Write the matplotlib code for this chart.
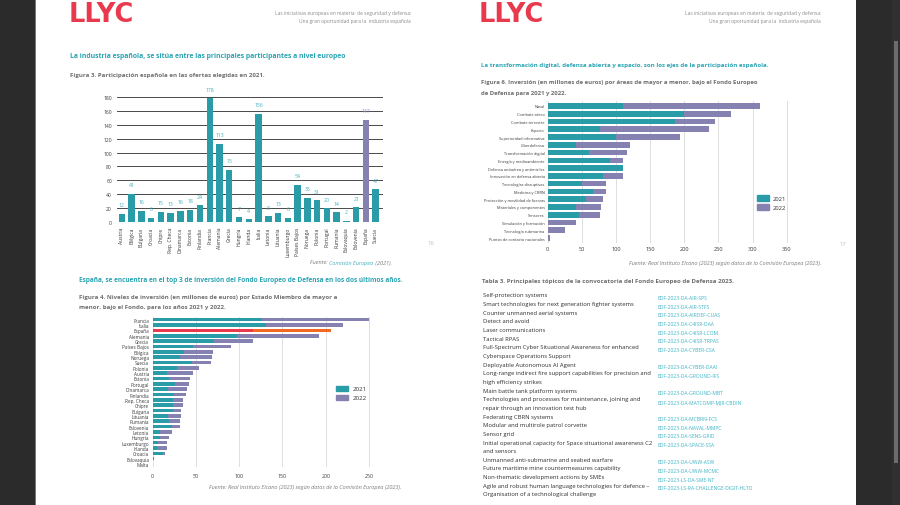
import matplotlib
matplotlib.use("Agg")
import matplotlib.pyplot as plt
from matplotlib.patches import Rectangle, Patch

plt.rcParams['font.family'] = ['Open Sans', 'DejaVu Sans']

# ---------------- data ----------------
fig3_countries = ["Austria", "Bélgica", "Bulgaria", "Croacia", "Chipre", "Rep. Checa",
                  "Dinamarca", "Estonia", "Finlandia", "Francia", "Alemania", "Grecia",
                  "Hungría", "Irlanda", "Italia", "Letonia", "Lituania", "Luxemburgo",
                  "Países Bajos", "Noruega", "Polonia", "Portugal", "Rumanía", "Eslovaquia",
                  "Eslovenia", "España", "Suecia"]
fig3_values = [12, 41, 16, 6, 15, 13, 16, 18, 24, 178, 113, 75, 7, 4, 156, 8, 13, 6,
               54, 35, 31, 20, 14, 2, 21, 147, 47]

fig4_countries = ["Francia", "Italia", "España", "Alemania", "Grecia", "Países Bajos",
                  "Bélgica", "Noruega", "Suecia", "Polonia", "Austria", "Estonia",
                  "Portugal", "Dinamarca", "Finlandia", "Rep. Checa", "Chipre", "Bulgaria",
                  "Lituania", "Rumanía", "Eslovenia", "Letonia", "Hungría", "Luxemburgo",
                  "Irlanda", "Croacia", "Eslovaquia", "Malta"]
fig4_2021 = [126, 131, 116, 98, 71, 46, 36, 31, 45, 28, 16, 19, 26, 18, 25, 24, 24, 23,
             18, 19, 22, 9, 9, 6, 5, 12, 1.5, 0]
fig4_2022 = [124, 89, 90, 94, 45, 44, 34, 38, 22, 25, 30, 24, 16, 22, 13, 11, 11, 10,
             15, 13, 9, 13, 10, 11, 11, 2, 0, 0.3]

fig6_areas = ["Naval", "Combate aéreo", "Combate terrestre", "Espacio",
              "Superioridad informativa", "Ciberdefensa", "Transformación digital",
              "Energía y medioambiente", "Defensa antiaérea y antimisiles",
              "Innovación en defensa abierta", "Tecnologías disruptivas", "Medicina y CBRN",
              "Protección y movilidad de fuerzas", "Materiales y componentes", "Sensores",
              "Simulación y formación", "Tecnología submarina", "Puntos de contacto nacionales"]
fig6_2021 = [111, 200, 186, 76, 100, 41, 61, 91, 111, 81, 50, 66, 56, 41, 46, 0, 0, 0]
fig6_2022 = [200, 69, 59, 160, 94, 79, 55, 20, 0, 30, 36, 20, 25, 37, 30, 41, 26, 3]

years = ["2021", "2022"]

table_topics = [
    "Self-protection systems",
    "Smart technologies for next generation fighter systems",
    "Counter unmanned aerial systems",
    "Detect and avoid",
    "Laser communications",
    "Tactical RPAS",
    "Full-Spectrum Cyber Situational Awareness for enhanced\nCyberspace Operations Support",
    "Deployable Autonomous AI Agent",
    "Long-range indirect fire support capabilities for precision and\nhigh efficiency strikes",
    "Main battle tank platform systems",
    "Technologies and processes for maintenance, joining and\nrepair through an innovation test hub",
    "Federating CBRN systems",
    "Modular and multirole patrol corvette",
    "Sensor grid",
    "Initial operational capacity for Space situational awareness C2\nand sensors",
    "Unmanned anti-submarine and seabed warfare",
    "Future maritime mine countermeasures capability",
    "Non-thematic development actions by SMEs",
    "Agile and robust human language technologies for defence –\nOrganisation of a technological challenge",
]
table_codes = [
    "EDF-2023-DA-AIR-SPS", "EDF-2023-DA-AIR-STFS", "EDF-2023-DA-AIRDEF-CUAS",
    "EDF-2023-DA-C4ISR-DAA", "EDF-2023-DA-C4ISR-LCOM", "EDF-2023-DA-C4ISR-TRPAS",
    "EDF-2023-DA-CYBER-CSA", "EDF-2023-DA-CYBER-DAAI", "EDF-2023-DA-GROUND-IFS",
    "EDF-2023-DA-GROUND-MBT", "EDF-2023-DA-MATCOMP-MJR-CBDIN", "EDF-2023-DA-MCBRN-FCS",
    "EDF-2023-DA-NAVAL-MMPC", "EDF-2023-DA-SENS-GRID", "EDF-2023-DA-SPACE-SSA",
    "EDF-2023-DA-UWW-ASW", "EDF-2023-DA-UWW-MCMC", "EDF-2023-LS-DA-SME-NT",
    "EDF-2023-LS-RA-CHALLENGE-DIGIT-HLTO",
]

# ---------------- styling ----------------
W, H = 900, 506
DARK = "#2b2b2b"
TEAL = "#2a9ca8"
PURPLE = "#8581b1"
RED = "#e8394d"
ORANGE = "#f26a22"
HEAD_TEAL = "#2ba4b3"
CODE_TEAL = "#3cb3c3"
LABEL_TEAL = "#3fb0bf"
GRAY_TITLE = "#6f6f6f"
TEXT = "#2e2e2e"

fig = plt.figure(figsize=(9, 5.06), dpi=100)
fig.patch.set_facecolor(DARK)
renderer = fig.canvas.get_renderer()


def fy(y):
    return 1 - y / H


def axpos(l, t, r, b):
    return [l / W, 1 - b / H, (r - l) / W, (b - t) / H]


def rect(x0, y0, x1, y1, color, z=0):
    fig.add_artist(Rectangle((x0 / W, fy(y1)), (x1 - x0) / W, (y1 - y0) / H,
                             transform=fig.transFigure, facecolor=color,
                             edgecolor="none", zorder=z))


def fit_text(x, y, s, width, ha="left", **kw):
    t = fig.text(x / W, fy(y), s, fontsize=10, ha=ha, va="center", **kw)
    w = t.get_window_extent(renderer).width
    t.set_fontsize(10 * width / w)
    return t


def fit_size(s, width, **kw):
    t = fig.text(0, 0, s, fontsize=10, **kw)
    w = t.get_window_extent(renderer).width
    t.remove()
    return 10 * width / w


def multicolor(xc, y, pieces, size, **kw):
    texts, widths = [], []
    for s, c in pieces:
        t = fig.text(0, 0, s, color=c, fontsize=size, va="center", ha="left", **kw)
        texts.append(t)
        widths.append(t.get_window_extent(renderer).width)
    x = xc - sum(widths) / 2
    for t, w in zip(texts, widths):
        t.set_position((x / W, fy(y)))
        x += w


# pages & chrome
rect(35.5, 0, 856, 506, "white")
rect(35, 0, 35.6, 506, "#777777", 1)
rect(892, 0, 900, 506, "#303030")
rect(893.5, 42, 897.5, 464, "#6c6c6c", 1)

# ---------------- headers ----------------
for x0, xr in [(69, 411), (479, 821)]:
    fig.text(x0 / W, fy(22), "LLYC", color=RED, fontsize=18.5, fontweight="bold",
             family="DejaVu Sans", ha="left", va="baseline")
    t1 = fit_text(xr, 14, "Las iniciativas europeas en materia  de seguridad y defensa:",
                  135, ha="right", color="#8a8a8a")
    fig.text(xr / W, fy(21), "Una gran oportunidad para la  industria española",
             fontsize=t1.get_fontsize(), ha="right", va="center", color="#8a8a8a")

fit_text(70, 57, "La industria española, se sitúa entre las principales participantes a nivel europeo",
         279, color=HEAD_TEAL, fontweight="bold")
fit_text(70, 75, "Figura 3. Participación española en las ofertas elegidas en 2021.",
         196, color=GRAY_TITLE, fontweight="bold")

fit_text(79, 281, "España, se encuentra en el top 3 de inversión del Fondo Europeo de Defensa en los dos últimos años.",
         327, color=HEAD_TEAL, fontweight="bold")
t = fit_text(79, 298, "Figura 4. Niveles de inversión (en millones de euros) por Estado Miembro de mayor a",
             256, color=GRAY_TITLE, fontweight="bold")
fig.text(79 / W, fy(308), "menor, bajo el Fondo, para los años 2021 y 2022.",
         fontsize=t.get_fontsize(), color=GRAY_TITLE, fontweight="bold", va="center")

fit_text(481, 65, "La transformación digital, defensa abierta y espacio, son los ejes de la participación española.",
         290, color=HEAD_TEAL, fontweight="bold")
t = fit_text(481, 83, "Figura 6. Inversión (en millones de euros) por áreas de mayor a menor, bajo el Fondo Europeo",
             279, color=GRAY_TITLE, fontweight="bold")
fig.text(481 / W, fy(93), "de Defensa para 2021 y 2022.",
         fontsize=t.get_fontsize(), color=GRAY_TITLE, fontweight="bold", va="center")

fit_text(481.5, 281, "Tabla 3. Principales tópicos de la convocatoria del Fondo Europeo de Defensa 2023.",
         254, color=GRAY_TITLE, fontweight="bold")

# page numbers
fig.text(431 / W, fy(244), "16", fontsize=4.2, color="#bdbdbd", ha="center", va="center")
fig.text(843 / W, fy(245), "17", fontsize=4.2, color="#bdbdbd", ha="center", va="center")

# sources
src_size = fit_size("Fuente: Real Instituto Elcano (2023) según datos de la Comisión Europea (2023).",
                    191, style="italic")
multicolor(351, 263, [("Fuente: ", "#7a7a7a"), ("Comisión Europea", LABEL_TEAL),
                      (" (2021).", "#7a7a7a")], src_size, style="italic")
multicolor(305, 488, [("Fuente: Real Instituto Elcano (2023) según datos de la Comisión Europea (2023).",
                       "#7a7a7a")], src_size, style="italic")
multicolor(725, 264, [("Fuente: Real Instituto Elcano (2023) según datos de la Comisión Europea (2023).",
                       "#7a7a7a")], src_size, style="italic")

# ---------------- Figure 3 ----------------
ax1 = fig.add_axes(axpos(117, 98, 383, 223))
x1 = list(range(len(fig3_countries)))
cols1 = [PURPLE if c == "España" else TEAL for c in fig3_countries]
ax1.bar(x1, fig3_values, width=0.66, color=cols1, zorder=2)
for xi, v, c in zip(x1, fig3_values, fig3_countries):
    ax1.annotate(str(v), (xi, v), xytext=(0, 6.5), textcoords="offset points",
                 ha="center", va="center", fontsize=3.7,
                 color=("#8f8bbd" if c == "España" else LABEL_TEAL), annotation_clip=False)
ax1.set_xlim(-0.5, 26.75)
ax1.set_ylim(0, 180)
ax1.set_yticks(range(0, 181, 20))
ax1.set_xticks(x1)
ax1.set_xticklabels(fig3_countries, rotation=90)
ax1.grid(axis="y", color="#3c3c3c", lw=0.65, zorder=0)
for s in ax1.spines.values():
    s.set_visible(False)
ax1.tick_params(axis="both", length=0, labelsize=3.6, colors="#3a3a3a")
ax1.tick_params(axis="y", pad=3.6)
ax1.tick_params(axis="x", pad=3.4)
ax1.set_facecolor("white")

# ---------------- Figure 4 ----------------
ax2 = fig.add_axes(axpos(152.7, 317.5, 379.4, 468.2))
y2 = list(range(len(fig4_countries)))
c21 = [RED if c == "España" else TEAL for c in fig4_countries]
c22 = [ORANGE if c == "España" else PURPLE for c in fig4_countries]
ax2.barh(y2, fig4_2021, height=0.66, color=c21, zorder=2)
ax2.barh(y2, fig4_2022, left=fig4_2021, height=0.66, color=c22, zorder=2)
ax2.set_xlim(0, 262)
ax2.set_ylim(27.6, -0.6)
ax2.set_xticks(range(0, 251, 50))
ax2.set_yticks(y2)
ax2.set_yticklabels(fig4_countries)
ax2.grid(axis="x", color="#dedede", lw=0.7, zorder=0)
for s in ax2.spines.values():
    s.set_visible(False)
ax2.tick_params(axis="both", length=0, colors="#3a3a3a")
ax2.tick_params(axis="y", labelsize=3.3, pad=2.6)
ax2.tick_params(axis="x", labelsize=3.8, pad=4.0)
ax2.legend(handles=[Patch(color=TEAL, label=years[0]), Patch(color=PURPLE, label=years[1])],
           loc="center left", bbox_to_anchor=(336 / W, fy(394)), bbox_transform=fig.transFigure,
           frameon=False, fontsize=4.5, handlelength=1.9, handleheight=1.0,
           handletextpad=0.7, labelspacing=0.5, borderpad=0, borderaxespad=0,
           labelcolor="#333333")

# ---------------- Figure 6 ----------------
ax3 = fig.add_axes(axpos(547.7, 102.3, 793.5, 243.7))
y3 = list(range(len(fig6_areas)))
ax3.barh(y3, fig6_2021, height=0.72, color=TEAL, zorder=2)
ax3.barh(y3, fig6_2022, left=fig6_2021, height=0.72, color=PURPLE, zorder=2)
ax3.set_xlim(0, 360)
ax3.set_ylim(17.6, -0.6)
ax3.set_xticks(range(0, 351, 50))
ax3.set_yticks(y3)
ax3.set_yticklabels(fig6_areas)
ax3.grid(axis="x", color="#dedede", lw=0.7, zorder=0)
for s in ax3.spines.values():
    s.set_visible(False)
ax3.tick_params(axis="both", length=0, colors="#3a3a3a")
ax3.tick_params(axis="y", labelsize=2.8, pad=2.2)
ax3.tick_params(axis="x", labelsize=4.1, pad=2.2)
ax3.legend(handles=[Patch(color=TEAL, label=years[0]), Patch(color=PURPLE, label=years[1])],
           loc="center left", bbox_to_anchor=(757 / W, fy(203.5)), bbox_transform=fig.transFigure,
           frameon=False, fontsize=4.2, handlelength=2.0, handleheight=1.1,
           handletextpad=0.7, labelspacing=0.5, borderpad=0, borderaxespad=0,
           labelcolor="#333333")

# ---------------- Table 3 ----------------
tsize = fit_size("Long-range indirect fire support capabilities for precision and", 169.3)
csize = fit_size("EDF-2023-LS-RA-CHALLENGE-DIGIT-HLTO", 96.7)
line = 0
y0, dy = 296.0, 8.65
for topic, code in zip(table_topics, table_codes):
    ytop = y0 + line * dy
    fig.text(657.7 / W, fy(ytop + 2.6), code, fontsize=csize, color=CODE_TEAL,
             ha="left", va="center")
    for part in topic.split("\n"):
        fig.text(482.7 / W, fy(y0 + line * dy), part, fontsize=tsize, color=TEXT,
                 ha="left", va="center")
        line += 1

fig.savefig("out.png", dpi=100, facecolor=fig.get_facecolor())
